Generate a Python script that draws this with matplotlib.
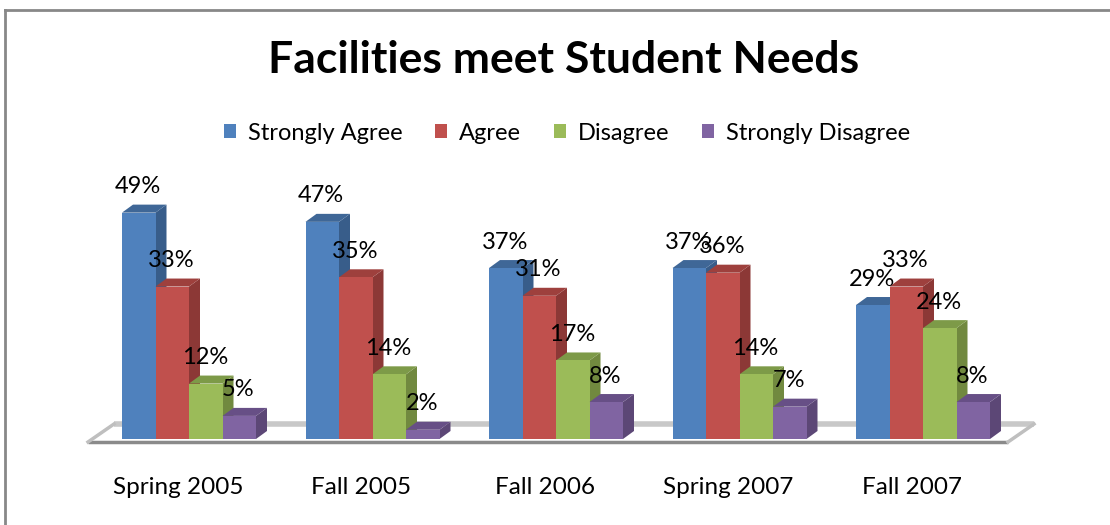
import matplotlib
matplotlib.use("Agg")
import matplotlib.pyplot as plt
from matplotlib.patches import Polygon, Patch
import numpy as np

categories = ["Spring 2005", "Fall 2005", "Fall 2006", "Spring 2007", "Fall 2007"]
series = ["Strongly Agree", "Agree", "Disagree", "Strongly Disagree"]
strongly_agree = [49, 47, 37, 37, 29]
agree = [33, 35, 31, 36, 33]
disagree = [12, 14, 17, 14, 24]
strongly_disagree = [5, 2, 8, 7, 8]
values = [strongly_agree, agree, disagree, strongly_disagree]

front = ["#4F81BD", "#C0504D", "#9BBB59", "#8064A2"]
side = ["#385D8A", "#8C3836", "#71893F", "#5C4776"]
top = ["#3F6797", "#9E403D", "#7D9A48", "#674F86"]

W, H = 1110, 525
fig = plt.figure(figsize=(W / 100, H / 100), dpi=100)
plt.rcParams['font.family'] = ['Lato', 'DejaVu Sans']

# pixel geometry of plot area
px_per_unit_x = 183.5
px_per_pct = 4.62
x0_px = 189.0   # pixel of group 0 center
y0_px = 439.0   # pixel of 0%
left_px, right_px = 80.0, 1050.0
top_px, bot_px = 160.0, 500.0
ax = fig.add_axes([left_px / W, 1 - bot_px / H, (right_px - left_px) / W, (bot_px - top_px) / H])
ax.set_xlim((left_px - x0_px) / px_per_unit_x, (right_px - x0_px) / px_per_unit_x)
ax.set_ylim(-(bot_px - y0_px) / px_per_pct, (y0_px - top_px) / px_per_pct)
ax.axis("off")

bw = 33.5 / px_per_unit_x
dx = 11.0 / px_per_unit_x
dy = 8.0 / px_per_pct

# floor slab
fl_front_y = -3.0 / px_per_pct
fl_back_y = 15.0 / px_per_pct
fl_l = (88 - x0_px) / px_per_unit_x
fl_r = (1008 - x0_px) / px_per_unit_x
fdx = 26.0 / px_per_unit_x
floor = Polygon([(fl_l, fl_front_y), (fl_r, fl_front_y), (fl_r + fdx, fl_back_y), (fl_l + fdx, fl_back_y)],
                closed=True, facecolor="white", edgecolor="#BFBFBF", lw=1.5, zorder=1)
ax.add_patch(floor)
ax.plot([fl_l + fdx, fl_r + fdx], [fl_back_y, fl_back_y], color="#C8C8C8", lw=4, zorder=1.1, solid_capstyle="butt")
ax.plot([fl_l, fl_r], [fl_front_y, fl_front_y], color="#8A8A8A", lw=2.5, zorder=1.2, solid_capstyle="butt")
ax.plot([fl_l, fl_l + fdx], [fl_front_y, fl_back_y], color="#BFBFBF", lw=2.5, zorder=1.2)
ax.plot([fl_r, fl_r + fdx], [fl_front_y, fl_back_y], color="#BFBFBF", lw=2.5, zorder=1.2)

z = 2
for i in range(len(categories)):
    for j in range(len(series)):
        v = values[j][i]
        xl = i - 2 * bw + j * bw
        xr = xl + bw
        # side face
        ax.add_patch(Polygon([(xr, 0), (xr + dx, dy), (xr + dx, v + dy), (xr, v)],
                             closed=True, facecolor=side[j], edgecolor="none", zorder=z))
        # top face
        ax.add_patch(Polygon([(xl, v), (xr, v), (xr + dx, v + dy), (xl + dx, v + dy)],
                             closed=True, facecolor=top[j], edgecolor="none", zorder=z))
        # front face
        ax.add_patch(Polygon([(xl, 0), (xr, 0), (xr, v), (xl, v)],
                             closed=True, facecolor=front[j], edgecolor="none", zorder=z + 0.5))
        z += 1

# value labels
for i in range(len(categories)):
    for j in range(len(series)):
        v = values[j][i]
        xc = i - 2 * bw + j * bw + bw / 2
        ax.annotate(f"{v}%", (xc, v), xytext=(-1, 26), textcoords="offset pixels",
                    ha="center", va="center", fontsize=17, color="black", zorder=200)

# category labels
for i, c in enumerate(categories):
    ax.annotate(c, (i, 0), xytext=(-11, -49), textcoords="offset pixels",
                ha="center", va="center", fontsize=17.5, color="black")

# title
fig.text(563.5 / W, 1 - 60 / H, "Facilities meet Student Needs", ha="center", va="center",
         fontsize=32, fontweight="bold")

# legend
handles = [Patch(facecolor=front[j], edgecolor="none", label=series[j]) for j in range(4)]
fig.legend(handles=handles, loc="center", bbox_to_anchor=(567 / W, 1 - 133 / H), ncol=4,
           frameon=False, fontsize=17, handlelength=0.5, handleheight=0.5, handletextpad=0.5,
           columnspacing=1.4)

# outer border (top and left)
fig.add_artist(plt.Line2D([5 / W, 5 / W], [0, 1 - 10 / H], transform=fig.transFigure, color="#888888", lw=2))
fig.add_artist(plt.Line2D([5 / W, 1], [1 - 10 / H, 1 - 10 / H], transform=fig.transFigure, color="#888888", lw=2))

fig.savefig("out.png", dpi=100)
